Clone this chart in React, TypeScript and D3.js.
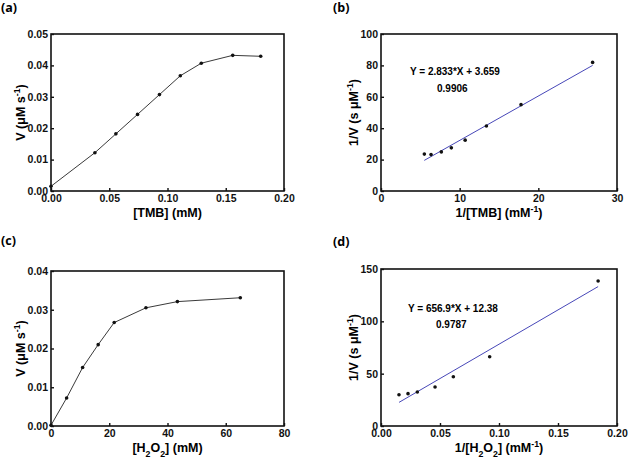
import * as d3 from "d3";
import { useEffect, useRef } from "react";

// (a) rate vs TMB concentration
const tmbConc = [0, 0.0377, 0.0557, 0.0743, 0.0931, 0.111, 0.129, 0.156, 0.18];
const tmbRate = [0.0015, 0.0122, 0.0182, 0.0244, 0.0307, 0.0367, 0.0407, 0.0432, 0.0429];

// (b) Lineweaver-Burk for TMB
const invTmb = [5.51, 6.36, 7.67, 8.94, 10.7, 13.4, 17.8, 26.9];
const invRateTmb = [23.5, 23.2, 24.9, 27.5, 32.4, 41.4, 55.0, 81.9];
const fitTmbX = [5.5, 26.9];
const fitTmbY = [19.5, 80.0];

// (c) rate vs H2O2 concentration
const h2o2Conc = [0, 5.37, 10.86, 16.2, 21.7, 32.6, 43.4, 65.0];
const h2o2Rate = [0.0002, 0.00723, 0.0151, 0.021, 0.0267, 0.0305, 0.0321, 0.0331];

// (d) Lineweaver-Burk for H2O2
const invH2o2 = [0.01525, 0.0229, 0.0308, 0.0458, 0.0613, 0.0921, 0.184];
const invRateH2o2 = [29.9, 30.9, 32.5, 37.3, 47.1, 66.2, 138.5];
const fitH2o2X = [0.0153, 0.184];
const fitH2o2Y = [22.6, 133.2];

const tickFont = "'Liberation Sans', Arial, sans-serif";
const fitColor = "#4747b8";

interface Part {
  t: string;
  sub?: boolean;
  sup?: boolean;
}

interface PanelProps {
  tag: string;
  tagX: number;
  tagY: number;
  box: { left: number; right: number; top: number; bottom: number };
  xDomain: [number, number];
  yDomain: [number, number];
  xTicks: number[];
  yTicks: number[];
  xFmt: string;
  yFmt: string;
  xs: number[];
  ys: number[];
  connect: boolean;
  fitX?: number[];
  fitY?: number[];
  eq?: string;
  r2?: string;
  eqPos?: [number, number, number, number];
  xTitle: Part[];
  yTitle: Part[];
}

function addRich(sel: d3.Selection<SVGTextElement, unknown, null, undefined>, parts: Part[]) {
  parts.forEach((p) => {
    const ts = sel.append("tspan").text(p.t);
    if (p.sub) ts.attr("baseline-shift", "sub").attr("font-size", "0.7em");
    if (p.sup) ts.attr("baseline-shift", "super").attr("font-size", "0.7em");
  });
}

function Panel(props: PanelProps) {
  const ref = useRef<SVGGElement>(null);

  useEffect(() => {
    if (!ref.current) return;
    const g = d3.select(ref.current);
    g.selectAll("*").remove();
    const { box } = props;

    const x = d3.scaleLinear().domain(props.xDomain).range([box.left, box.right]);
    const y = d3.scaleLinear().domain(props.yDomain).range([box.bottom, box.top]);

    g.append("text")
      .attr("x", props.tagX)
      .attr("y", props.tagY)
      .attr("font-family", "'Open Sans', sans-serif")
      .attr("font-weight", 700)
      .attr("font-size", 12.5)
      .text(props.tag);

    // frame
    g.append("rect")
      .attr("x", box.left)
      .attr("y", box.top)
      .attr("width", box.right - box.left)
      .attr("height", box.bottom - box.top)
      .attr("fill", "none")
      .attr("stroke", "#111")
      .attr("stroke-width", 1.6);

    const xAxis = g.append("g")
      .attr("transform", `translate(0, ${box.bottom})`)
      .call(d3.axisBottom(x).tickValues(props.xTicks).tickFormat(d3.format(props.xFmt)).tickSize(-3).tickPadding(4));
    const yAxis = g.append("g")
      .attr("transform", `translate(${box.left}, 0)`)
      .call(d3.axisLeft(y).tickValues(props.yTicks).tickFormat(d3.format(props.yFmt)).tickSize(-3).tickPadding(3));

    [xAxis, yAxis].forEach((ax) => {
      ax.select(".domain").remove();
      ax.selectAll("line").attr("stroke", "#111").attr("stroke-width", 1.4);
      ax.selectAll("text")
        .attr("fill", "#111")
        .attr("font-family", tickFont)
        .attr("font-weight", 700)
        .attr("font-size", 10.5);
    });

    const pts = props.xs.map((v, i) => [v, props.ys[i]] as [number, number]);

    if (props.connect) {
      g.append("path")
        .datum(pts)
        .attr("fill", "none")
        .attr("stroke", "#3a3a3a")
        .attr("stroke-width", 1)
        .attr("d", d3.line<[number, number]>().x((d) => x(d[0])).y((d) => y(d[1])));
    }

    if (props.fitX && props.fitY) {
      const fit = props.fitX.map((v, i) => [v, props.fitY![i]] as [number, number]);
      g.append("path")
        .datum(fit)
        .attr("fill", "none")
        .attr("stroke", fitColor)
        .attr("stroke-width", 1)
        .attr("d", d3.line<[number, number]>().x((d) => x(d[0])).y((d) => y(d[1])));
    }

    g.append("g")
      .selectAll("circle")
      .data(pts)
      .join("circle")
      .attr("cx", (d) => x(d[0]))
      .attr("cy", (d) => y(d[1]))
      .attr("r", 1.8)
      .attr("fill", "#111");

    if (props.eq && props.eqPos) {
      const [ex, ey, rx, ry] = props.eqPos;
      g.append("text")
        .attr("x", ex).attr("y", ey)
        .attr("font-family", tickFont).attr("font-weight", 700).attr("font-size", 10)
        .text(props.eq);
      g.append("text")
        .attr("x", rx).attr("y", ry)
        .attr("font-family", tickFont).attr("font-weight", 700).attr("font-size", 10)
        .text(props.r2 ?? "");
    }

    const xt = g.append("text")
      .attr("x", (box.left + box.right) / 2)
      .attr("y", box.bottom + 26)
      .attr("text-anchor", "middle")
      .attr("font-family", tickFont)
      .attr("font-weight", 700)
      .attr("font-size", 12.5);
    addRich(xt, props.xTitle);

    const yt = g.append("text")
      .attr("transform", `translate(${box.left - (props.yFmt === ".2f" ? 26 : 23)}, ${(box.top + box.bottom) / 2}) rotate(-90)`)
      .attr("text-anchor", "middle")
      .attr("font-family", tickFont)
      .attr("font-weight", 700)
      .attr("font-size", 12.5);
    addRich(yt, props.yTitle);
  }, [props]);

  return <g ref={ref}></g>;
}

export default function App() {
  return (
    <svg
      width={628}
      height={461}
      style={{ position: "absolute", left: 0, top: 0, background: "#fff" }}
    >
      <Panel
        tag="(a)" tagX={1} tagY={12}
        box={{ left: 51, right: 284, top: 34, bottom: 191 }}
        xDomain={[0, 0.2]} yDomain={[0, 0.05]}
        xTicks={[0, 0.05, 0.1, 0.15, 0.2]} yTicks={[0, 0.01, 0.02, 0.03, 0.04, 0.05]}
        xFmt=".2f" yFmt=".2f"
        xs={tmbConc} ys={tmbRate} connect={true}
        xTitle={[{ t: "[TMB] (mM)" }]}
        yTitle={[{ t: "V (μM s" }, { t: "-1", sup: true }, { t: ")" }]}
      />
      <Panel
        tag="(b)" tagX={333} tagY={12}
        box={{ left: 381, right: 617, top: 34, bottom: 191 }}
        xDomain={[0, 30]} yDomain={[0, 100]}
        xTicks={[0, 10, 20, 30]} yTicks={[0, 20, 40, 60, 80, 100]}
        xFmt="d" yFmt="d"
        xs={invTmb} ys={invRateTmb} connect={false}
        fitX={fitTmbX} fitY={fitTmbY}
        eq="Y = 2.833*X + 3.659" r2="0.9906" eqPos={[410, 75, 437, 92]}
        xTitle={[{ t: "1/[TMB] (mM" }, { t: "-1", sup: true }, { t: ")" }]}
        yTitle={[{ t: "1/V (s μM" }, { t: "-1", sup: true }, { t: ")" }]}
      />
      <Panel
        tag="(c)" tagX={1} tagY={245}
        box={{ left: 51, right: 284, top: 271, bottom: 426 }}
        xDomain={[0, 80]} yDomain={[0, 0.04]}
        xTicks={[0, 20, 40, 60, 80]} yTicks={[0, 0.01, 0.02, 0.03, 0.04]}
        xFmt="d" yFmt=".2f"
        xs={h2o2Conc} ys={h2o2Rate} connect={true}
        xTitle={[{ t: "[H" }, { t: "2", sub: true }, { t: "O" }, { t: "2", sub: true }, { t: "] (mM)" }]}
        yTitle={[{ t: "V (μM s" }, { t: "-1", sup: true }, { t: ")" }]}
      />
      <Panel
        tag="(d)" tagX={333} tagY={246}
        box={{ left: 381, right: 617, top: 269, bottom: 426 }}
        xDomain={[0, 0.2]} yDomain={[0, 150]}
        xTicks={[0, 0.05, 0.1, 0.15, 0.2]} yTicks={[0, 50, 100, 150]}
        xFmt=".2f" yFmt="d"
        xs={invH2o2} ys={invRateH2o2} connect={false}
        fitX={fitH2o2X} fitY={fitH2o2Y}
        eq="Y = 656.9*X + 12.38" r2="0.9787" eqPos={[408, 312, 436, 328]}
        xTitle={[{ t: "1/[H" }, { t: "2", sub: true }, { t: "O" }, { t: "2", sub: true }, { t: "] (mM" }, { t: "-1", sup: true }, { t: ")" }]}
        yTitle={[{ t: "1/V (s μM" }, { t: "-1", sup: true }, { t: ")" }]}
      />
    </svg>
  );
}
